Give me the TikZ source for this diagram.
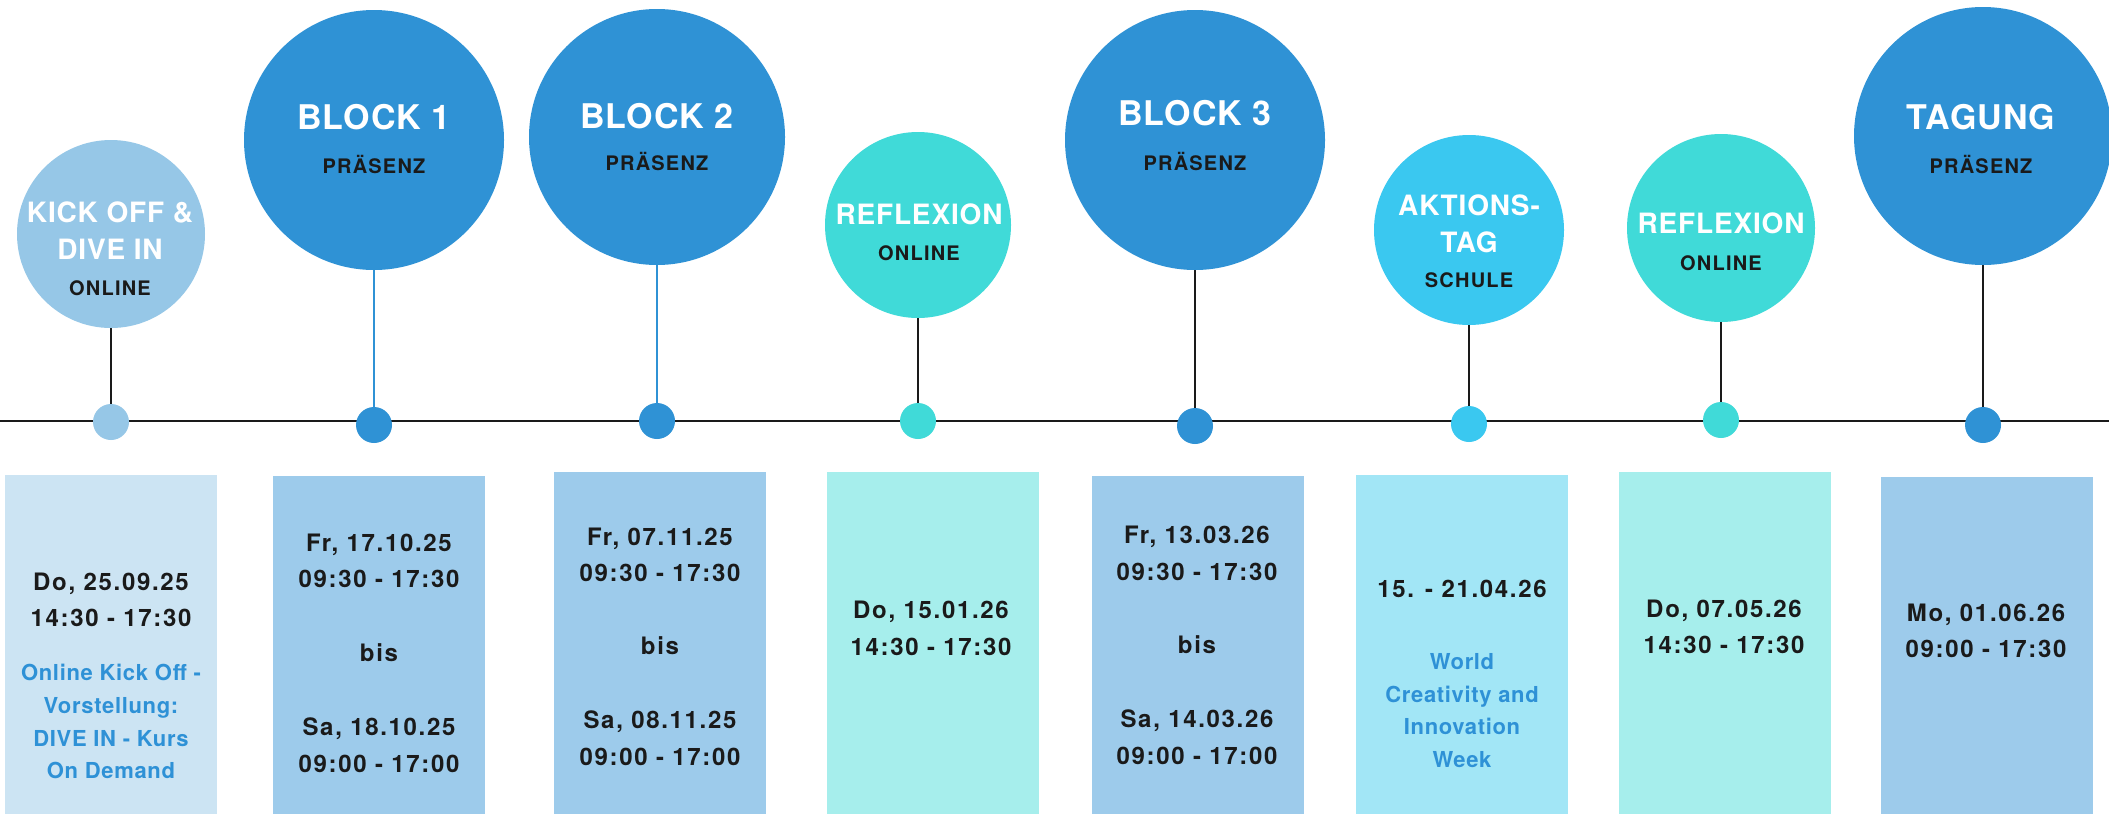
\documentclass[tikz,border=0pt]{standalone}
\usepackage{fontspec}
\setmainfont{TeX Gyre Heros}
\newfontfamily\fTitle[LetterSpace=3]{TeX Gyre Heros}
\newfontfamily\fSub[LetterSpace=6]{TeX Gyre Heros}
\newfontfamily\fDate[LetterSpace=7]{TeX Gyre Heros}
\newfontfamily\fNote[LetterSpace=3]{TeX Gyre Heros}
\usetikzlibrary{backgrounds}
\definecolor{ink}{HTML}{1A1A1A}
\definecolor{kickc}{HTML}{96C7E7}
\definecolor{kickb}{HTML}{CCE4F3}
\definecolor{blockc}{HTML}{2F92D5}
\definecolor{blockb}{HTML}{9DCBEB}
\definecolor{reflc}{HTML}{40DAD8}
\definecolor{reflb}{HTML}{A6EEEC}
\definecolor{aktc}{HTML}{3AC8F0}
\definecolor{aktb}{HTML}{A2E6F6}
\definecolor{bluetxt}{HTML}{2E91D6}
\tikzset{
  circ/.style={circle, inner sep=0pt, draw=none},
  dotnode/.style={circle, inner sep=0pt, minimum size=36pt, draw=none},
  ttl/.style={anchor=base, inner sep=0pt, text=white, font=\fTitle\bfseries\fontsize{34}{34}\selectfont},
  ttls/.style={anchor=base, inner sep=0pt, text=white, font=\fTitle\bfseries\fontsize{28}{28}\selectfont},
  sub/.style={anchor=base, inner sep=0pt, text=ink, font=\fSub\bfseries\fontsize{20}{20}\selectfont},
  dt/.style={anchor=base, inner sep=0pt, text=ink, font=\fDate\bfseries\fontsize{24}{24}\selectfont},
  note/.style={anchor=base, inner sep=0pt, text=bluetxt, font=\fNote\bfseries\fontsize{22}{22}\selectfont},
  box/.style={anchor=north west, inner sep=0pt, minimum width=212pt, draw=none},
  stem/.style={line width=2.5pt, draw=ink},
  bstem/.style={line width=2.5pt, draw=blockc},
  timeline/.style={line width=1.5pt, draw=ink}
}
\begin{document}
\begin{tikzpicture}[x=1pt,y=-1pt]
\useasboundingbox (0,0) rectangle (2109,814);

% boxes
\node[box, fill=kickb,  minimum height=339pt] (b1) at (5,475) {};
\node[box, fill=blockb, minimum height=338pt] (b2) at (273,476) {};
\node[box, fill=blockb, minimum height=342pt] (b3) at (554,472) {};
\node[box, fill=reflb,  minimum height=342pt] (b4) at (827,472) {};
\node[box, fill=blockb, minimum height=338pt] (b5) at (1092,476) {};
\node[box, fill=aktb,   minimum height=339pt] (b6) at (1356,475) {};
\node[box, fill=reflb,  minimum height=342pt] (b7) at (1619,472) {};
\node[box, fill=blockb, minimum height=337pt] (b8) at (1881,477) {};

% circles
\node[circ, fill=kickc,  minimum size=188pt] (c1) at (111,234) {};
\node[circ, fill=blockc, minimum size=260pt] (c2) at (374,140) {};
\node[circ, fill=blockc, minimum size=256pt] (c3) at (657,137) {};
\node[circ, fill=reflc,  minimum size=186pt] (c4) at (918,225) {};
\node[circ, fill=blockc, minimum size=260pt] (c5) at (1195,140) {};
\node[circ, fill=aktc,   minimum size=190pt] (c6) at (1469,230) {};
\node[circ, fill=reflc,  minimum size=188pt] (c7) at (1721,228) {};
\node[circ, fill=blockc, minimum size=258pt] (c8) at (1983,136) {};

% dots
\node[dotnode, fill=kickc]  (d1) at (111,422) {};
\node[dotnode, fill=blockc] (d2) at (374,425) {};
\node[dotnode, fill=blockc] (d3) at (657,421) {};
\node[dotnode, fill=reflc]  (d4) at (918,421) {};
\node[dotnode, fill=blockc] (d5) at (1195,426) {};
\node[dotnode, fill=aktc]   (d6) at (1469,424) {};
\node[dotnode, fill=reflc]  (d7) at (1721,420) {};
\node[dotnode, fill=blockc] (d8) at (1983,425) {};

\coordinate (tl) at (0,421);
\coordinate (tr) at (2109,421);
\begin{pgfonlayer}{background}
\fill[white] (0,0) rectangle (2109,814);
\draw[timeline] (tl) -- (tr);
\draw[stem]  (c1.south) -- (d1.center);
\draw[bstem] (c2.south) -- (d2.center);
\draw[bstem] (c3.south) -- (d3.center);
\draw[stem]  (c4.south) -- (d4.center);
\draw[stem]  (c5.south) -- (d5.center);
\draw[stem]  (c6.south) -- (d6.center);
\draw[stem]  (c7.south) -- (d7.center);
\draw[stem]  (c8.south) -- (d8.center);
\end{pgfonlayer}

% circle texts
\node[ttls] (c1t1) at (110,222) {KICK OFF \&};
\node[ttls] (c1t2) at (110,259) {DIVE IN};
\node[sub]  (c1s)  at (110,295) {ONLINE};

\node[ttl] (c2t) at (374,129) {BLOCK 1};
\node[sub] (c2s) at (374,173) {PRÄSENZ};

\node[ttl] (c3t) at (657,128) {BLOCK 2};
\node[sub] (c3s) at (657,170) {PRÄSENZ};

\node[ttls] (c4t) at (919,224) {REFLEXION};
\node[sub]  (c4s) at (919,260) {ONLINE};

\node[ttl] (c5t) at (1195,125) {BLOCK 3};
\node[sub] (c5s) at (1195,170) {PRÄSENZ};

\node[ttls] (c6t1) at (1469,215) {AKTIONS-};
\node[ttls] (c6t2) at (1469,252) {TAG};
\node[sub]  (c6s)  at (1469,287) {SCHULE};

\node[ttls] (c7t) at (1721,233) {REFLEXION};
\node[sub]  (c7s) at (1721,270) {ONLINE};

\node[ttl] (c8t) at (1981,129) {TAGUNG};
\node[sub] (c8s) at (1981,173) {PRÄSENZ};

% box texts
\node[dt]   (b1a) at (111,590) {Do, 25.09.25};
\node[dt]   (b1b) at (111,626) {14:30 - 17:30};
\node[note] (b1c) at (111,680) {Online Kick Off -};
\node[note] (b1d) at (111,713) {Vorstellung:};
\node[note] (b1e) at (111,746) {DIVE IN - Kurs};
\node[note] (b1f) at (111,778) {On Demand};

\node[dt] (b2a) at (379,551) {Fr, 17.10.25};
\node[dt] (b2b) at (379,587) {09:30 - 17:30};
\node[dt] (b2c) at (379,661) {bis};
\node[dt] (b2d) at (379,735) {Sa, 18.10.25};
\node[dt] (b2e) at (379,772) {09:00 - 17:00};

\node[dt] (b3a) at (660,545) {Fr, 07.11.25};
\node[dt] (b3b) at (660,581) {09:30 - 17:30};
\node[dt] (b3c) at (660,654) {bis};
\node[dt] (b3d) at (660,728) {Sa, 08.11.25};
\node[dt] (b3e) at (660,765) {09:00 - 17:00};

\node[dt] (b4a) at (931,618) {Do, 15.01.26};
\node[dt] (b4b) at (931,655) {14:30 - 17:30};

\node[dt] (b5a) at (1197,543) {Fr, 13.03.26};
\node[dt] (b5b) at (1197,580) {09:30 - 17:30};
\node[dt] (b5c) at (1197,653) {bis};
\node[dt] (b5d) at (1197,727) {Sa, 14.03.26};
\node[dt] (b5e) at (1197,764) {09:00 - 17:00};

\node[dt]   (b6a) at (1462,597) {15. - 21.04.26};
\node[note] (b6b) at (1462,669) {World};
\node[note] (b6c) at (1462,702) {Creativity and};
\node[note] (b6d) at (1462,734) {Innovation};
\node[note] (b6e) at (1462,767) {Week};

\node[dt] (b7a) at (1724,617) {Do, 07.05.26};
\node[dt] (b7b) at (1724,653) {14:30 - 17:30};

\node[dt] (b8a) at (1986,621) {Mo, 01.06.26};
\node[dt] (b8b) at (1986,657) {09:00 - 17:30};
\end{tikzpicture}
\end{document}
